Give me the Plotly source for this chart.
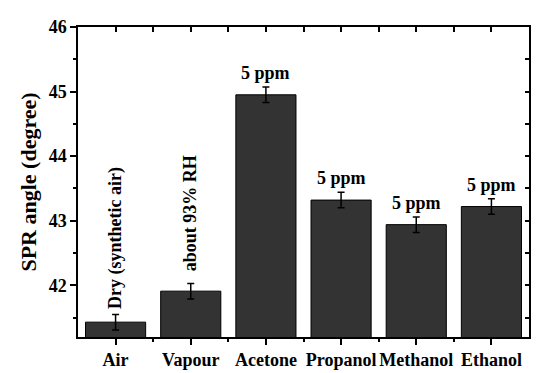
import plotly.graph_objects as go

categories = ["Air", "Vapour", "Acetone", "Propanol", "Methanol", "Ethanol"]
values = [41.43, 41.91, 44.95, 43.32, 42.94, 43.22]
errors = [0.12, 0.12, 0.12, 0.12, 0.12, 0.12]
notes = ["Dry (synthetic air)", "about 93% RH", "5 ppm", "5 ppm", "5 ppm", "5 ppm"]
y_ticks = [42, 43, 44, 45, 46]

FONT = "Liberation Serif, Times New Roman, serif"
xpos = list(range(len(categories)))

fig = go.Figure()
fig.add_trace(go.Bar(
    x=xpos, y=values, width=0.8,
    marker=dict(color="#333333", line=dict(color="#000000", width=1)),
    error_y=dict(type="data", array=errors, visible=True, color="#000000",
                 thickness=1.5, width=3.5),
    showlegend=False,
))
# invisible trace for mirrored axes
fig.add_trace(go.Scatter(x=[xpos[0]], y=[values[0]], xaxis="x2", yaxis="y2",
                         mode="markers", marker=dict(opacity=0), showlegend=False,
                         hoverinfo="skip"))

xr = [-0.5, len(categories) - 0.5]
yr = [41.2, 46]

# page body has an 8px default margin, so the figure is sized to fit the window
fig.update_layout(
    width=542, height=365,
    margin=dict(l=70, r=21, t=19, b=36, autoexpand=False),
    paper_bgcolor="white", plot_bgcolor="white",
    font=dict(family=FONT, size=18, color="black", weight="bold"),
    xaxis=dict(range=xr, tickmode="array", tickvals=xpos, ticktext=categories,
               automargin=False,
               showgrid=False, zeroline=False, showline=True, linecolor="black",
               linewidth=1.5, ticks="outside", ticklen=6, tickwidth=1.5,
               tickcolor="black",
               tickfont=dict(family=FONT, size=18, color="black", weight="bold"),
               minor=dict(tickvals=[i + 0.5 for i in xpos[:-1]], ticks="outside",
                          ticklen=3, tickwidth=1.5, tickcolor="black")),
    yaxis=dict(range=yr, tickmode="array", tickvals=y_ticks,
               automargin=False,
               showgrid=False, zeroline=False, showline=True, linecolor="black",
               linewidth=1.5, ticks="outside", ticklen=6, tickwidth=1.5,
               tickcolor="black",
               tickfont=dict(family=FONT, size=18, color="black", weight="bold"),
               title=dict(text="SPR angle (degree)", standoff=6,
                          font=dict(family=FONT, size=22, color="black", weight="bold")),
               minor=dict(tickvals=[41.5, 42.5, 43.5, 44.5, 45.5], ticks="outside",
                          ticklen=3, tickwidth=1.5, tickcolor="black")),
    xaxis2=dict(range=xr, overlaying="x", side="top", showgrid=False, zeroline=False,
                automargin=False,
                showline=True, linecolor="black", linewidth=1.5,
                tickmode="linear", tick0=0, dtick=0.5, ticks="inside", ticklen=5,
                tickwidth=1.5, tickcolor="black", showticklabels=False),
    yaxis2=dict(range=yr, overlaying="y", side="right", showgrid=False, zeroline=False,
                automargin=False,
                showline=True, linecolor="black", linewidth=1.5,
                tickmode="linear", tick0=41.5, dtick=0.5, ticks="inside", ticklen=4,
                tickwidth=1.5, tickcolor="black", showticklabels=False),
)

shifts = [3, 10, 2, 2, 2, 2]
for i, (v, e, n) in enumerate(zip(values, errors, notes)):
    vertical = i < 2
    fig.add_annotation(
        x=xpos[i], y=v + e, xref="x", yref="y", text=n, showarrow=False,
        textangle=-90 if vertical else 0, xanchor="center", yanchor="bottom",
        yshift=shifts[i],
        font=dict(family=FONT, size=18, color="black", weight="bold"),
    )

fig.write_html("out.html")
